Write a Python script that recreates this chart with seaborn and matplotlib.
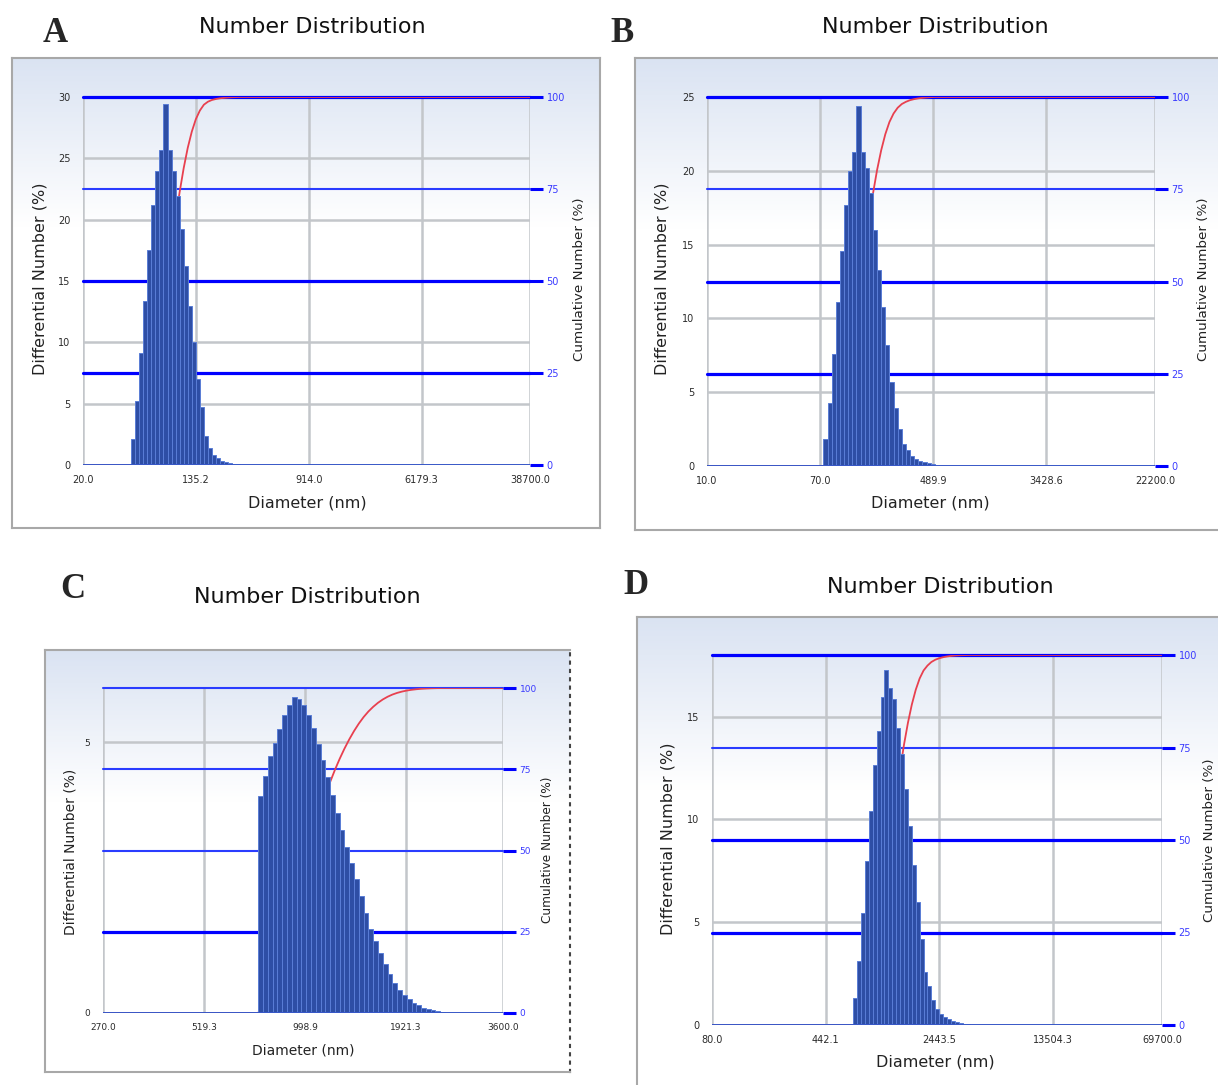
import numpy as np
import matplotlib
matplotlib.use("Agg")
import matplotlib.pyplot as plt
from matplotlib.ticker import NullLocator, FixedLocator
import seaborn as sns

sns.set_style("white")
plt.rcParams['font.family'] = ['DejaVu Sans']

# ---------------- data ----------------
cum_ticks = [0, 25, 50, 75, 100]

# Panel A
a_edges = [45.2, 48.4, 51.83, 55.5, 59.43, 63.64, 68.14, 72.97, 78.13, 83.66,
           89.59, 95.93, 102.72, 110.0, 117.78, 126.12, 135.05, 144.61, 154.85,
           165.81, 177.55, 190.12, 203.58, 217.99, 233.42, 249.95, 267.64, 286.59]
a_heights = [2.1, 5.2, 9.1, 13.4, 17.5, 21.2, 24.0, 25.7, 29.4, 25.7, 24.0, 21.9,
             19.2, 16.2, 13.0, 10.0, 7.0, 4.7, 2.4, 1.4, 0.8, 0.55, 0.35, 0.28,
             0.2, 0.12, 0.08]
a_xticks = [20.0, 135.2, 914.0, 6179.3, 38700.0]
a_xticklabels = ["20.0", "135.2", "914.0", "6179.3", "38700.0"]
a_yticks = [0, 5, 10, 15, 20, 25, 30]

# Panel B
b_edges = [74.1, 79.55, 85.4, 91.67, 98.41, 105.64, 113.4, 121.74, 130.69, 140.29,
           150.6, 161.67, 173.55, 186.31, 200.0, 214.7, 230.48, 247.42, 265.61,
           285.13, 306.09, 328.59, 352.74, 378.67, 406.5, 436.38, 468.46, 502.89]
b_heights = [1.8, 4.3, 7.6, 11.1, 14.6, 17.7, 20.0, 21.3, 24.4, 21.3, 20.2, 18.5,
             16.0, 13.3, 10.8, 8.2, 5.7, 3.9, 2.5, 1.5, 1.1, 0.7, 0.5, 0.35,
             0.25, 0.2, 0.12]
b_xticks = [10.0, 70.0, 489.9, 3428.6, 22200.0]
b_xticklabels = ["10.0", "70.0", "489.9", "3428.6", "22200.0"]
b_yticks = [0, 5, 10, 15, 20, 25]

# Panel C
c_edges = [738.0, 761.25, 785.23, 809.96, 835.47, 861.79, 888.93, 916.93, 945.82,
           975.61, 1006.34, 1038.04, 1070.74, 1104.47, 1139.26, 1175.15, 1212.17,
           1250.35, 1289.74, 1330.37, 1372.27, 1415.5, 1460.09, 1506.08, 1553.52,
           1602.46, 1652.94, 1705.01, 1758.72, 1814.12, 1871.26, 1930.2, 1991.0,
           2053.72, 2118.41, 2185.14, 2253.97, 2324.97, 2398.21, 2473.75]
c_heights = [4.0, 4.37, 4.75, 4.98, 5.25, 5.5, 5.69, 5.83, 5.8, 5.68, 5.5, 5.27,
             4.97, 4.68, 4.35, 4.03, 3.7, 3.37, 3.07, 2.77, 2.47, 2.16, 1.85,
             1.55, 1.33, 1.1, 0.9, 0.72, 0.56, 0.43, 0.34, 0.25, 0.19, 0.14,
             0.1, 0.07, 0.05, 0.03, 0.02]
c_xticks = [270.0, 519.3, 998.9, 1921.3, 3600.0]
c_xticklabels = ["270.0", "519.3", "998.9", "1921.3", "3600.0"]
c_yticks = [0, 5]

# Panel D
d_edges = [669.0, 709.54, 752.54, 798.14, 846.51, 897.81, 952.2, 1009.9, 1071.1,
           1136.01, 1204.85, 1277.86, 1355.3, 1437.43, 1524.54, 1616.93, 1714.92,
           1818.84, 1929.06, 2045.96, 2169.94, 2301.44, 2440.91, 2588.83, 2745.71,
           2912.1, 3088.57, 3275.74, 3474.25, 3684.79, 3908.09]
d_heights = [1.3, 3.1, 5.45, 7.97, 10.4, 12.65, 14.3, 15.95, 17.25, 16.4, 15.85,
             14.45, 13.2, 11.5, 9.7, 7.8, 6.0, 4.2, 2.6, 1.9, 1.2, 0.78, 0.55,
             0.4, 0.28, 0.2, 0.13, 0.08, 0.05, 0.03]
d_xticks = [80.0, 442.1, 2443.5, 13504.3, 69700.0]
d_xticklabels = ["80.0", "442.1", "2443.5", "13504.3", "69700.0"]
d_yticks = [0, 5, 10, 15]

title_text = "Number Distribution"
xlabel_text = "Diameter (nm)"
ylabel_text = "Differential Number (%)"
rlabel_text = "Cumulative Number (%)"

# ---------------- figure ----------------
W, H = 1218, 1085
fig = plt.figure(figsize=(W / 100, H / 100), dpi=100)


def rect(x0, y0, x1, y1):
    return [x0 / W, 1 - y1 / H, (x1 - x0) / W, (y1 - y0) / H]


def to_frac(xy):
    return xy[0] / W, 1 - xy[1] / H


BAR = "#2e4ea5"
BAR_EDGE = "#5a7dd6"
BLUE = "#0000ff"
RED = "#e8404f"
GRID = "#c3c6ca"


def panel(box, plot, edges, heights, xticks, xticklabels, yticks, ymax,
          line_w, letter, letter_xy, title_xy, xlab_xy, ylab_xy, rlab_xy,
          lab_fs, rlab_fs, tick_fs, dotted_right=False):
    # panel background with gradient
    bg = fig.add_axes(rect(*box), zorder=0)
    n = 300
    t = np.clip(np.linspace(0, 1, n) / 0.36, 0, 1)
    top = np.array([0.855, 0.89, 0.95])
    cols = top[None, :] + (1 - top[None, :]) * t[:, None]
    bg.imshow(cols[:, None, :], aspect="auto", extent=[0, 1, 0, 1], origin="upper")
    bg.set_xticks([]); bg.set_yticks([])
    for s in bg.spines.values():
        s.set_color("#a8a8a8"); s.set_linewidth(1.5)
    if dotted_right:
        bg.spines["right"].set_color("#444444")
        bg.spines["right"].set_linestyle((0, (1, 3)))

    ax = fig.add_axes(rect(*plot), zorder=1)
    ax.patch.set_alpha(0)

    e = np.asarray(edges, dtype=float)
    centers = np.sqrt(e[:-1] * e[1:])
    log_edges = [float(v) for v in np.log10(e)]
    sns.histplot(x=centers, weights=np.asarray(heights), bins=log_edges,
                 log_scale=True, stat="count", color=BAR, edgecolor=BAR_EDGE,
                 linewidth=0.7, alpha=1, ax=ax, zorder=3)

    # cumulative curve (behind the bars)
    h = np.asarray(heights)
    cum = np.cumsum(h) / h.sum() * 100
    xs = np.concatenate([[xticks[0], e[0]], e[1:], [xticks[-1]]])
    ys = np.concatenate([[0, 0], cum, [100]]) * ymax / 100
    sns.lineplot(x=xs, y=ys, sort=False, estimator=None, color=RED, lw=1.3,
                 ax=ax, zorder=2.5)

    # blue cumulative guide lines
    for frac, (lw, col) in zip([0.25, 0.5, 0.75, 1.0], line_w):
        ax.axhline(frac * ymax, color=col, lw=lw, zorder=2, clip_on=False)
    ax.axhline(0, color="#3858c8", lw=1.4, zorder=4)

    ax.set_xscale("log")
    ax.set_xlim(xticks[0], xticks[-1])
    ax.set_ylim(0, ymax)
    ax.xaxis.set_major_locator(FixedLocator(xticks))
    ax.xaxis.set_minor_locator(NullLocator())
    ax.set_xticklabels(xticklabels)
    ax.set_yticks(yticks)
    ax.set_xlabel(""); ax.set_ylabel("")
    ax.grid(True, color=GRID, lw=1.8)
    ax.set_axisbelow(True)
    for s in ax.spines.values():
        s.set_visible(False)
    ax.tick_params(axis="x", length=4, width=1.5, color=GRID, labelsize=tick_fs,
                   labelcolor="#2a2a2a", pad=3)
    ax.tick_params(axis="y", length=7, width=1.5, color=GRID, labelsize=tick_fs,
                   labelcolor="#2a2a2a", pad=2)

    sec = ax.secondary_yaxis("right", functions=(lambda y, m=ymax: y * 100 / m,
                                                  lambda p, m=ymax: p * m / 100))
    sec.set_yticks(cum_ticks)
    sec.tick_params(length=9, width=2.2, color=BLUE, labelcolor="#3a3aff",
                    labelsize=tick_fs, pad=3)
    for s in sec.spines.values():
        s.set_visible(False)

    fig.text(*to_frac(title_xy), title_text, fontsize=16, ha="center",
             va="center", color="#111111")
    fig.text(*to_frac(letter_xy), letter, fontsize=25, ha="center",
             va="center", fontweight="bold", family=["Liberation Serif"])
    fig.text(*to_frac(xlab_xy), xlabel_text, fontsize=lab_fs, ha="center",
             va="center", color="#222222")
    fig.text(*to_frac(ylab_xy), ylabel_text, fontsize=lab_fs, ha="center",
             va="center", rotation=90, color="#222222")
    fig.text(*to_frac(rlab_xy), rlabel_text, fontsize=rlab_fs, ha="center",
             va="center", rotation=90, color="#222222")


THICK = (2.3, BLUE)
THIN = (1.5, "#2a3cff")

panel((12, 58, 600, 528), (83, 97, 530, 465), a_edges, a_heights, a_xticks,
      a_xticklabels, a_yticks, 30, [THICK, THICK, THIN, THICK], "A", (55, 33),
      (312, 27), (307, 503), (40, 279), (580, 279), 11.5, 9.7, 7)

panel((635, 58, 1230, 530), (707, 97, 1155, 466), b_edges, b_heights, b_xticks,
      b_xticklabels, b_yticks, 25, [THICK, THICK, THIN, THICK], "B", (622, 33),
      (935, 27), (930, 503), (662, 279), (1203, 279), 11.5, 9.7, 7)

panel((45, 650, 570, 1072), (103, 688, 503, 1013), c_edges, c_heights, c_xticks,
      c_xticklabels, c_yticks, 6, [THICK, THIN, THIN, THIN], "C", (73, 590),
      (307, 597), (303, 1050), (70, 852), (548, 850), 10, 8.7, 6.5,
      dotted_right=True)

panel((637, 617, 1230, 1095), (712, 655, 1162, 1025), d_edges, d_heights, d_xticks,
      d_xticklabels, d_yticks, 18, [THICK, THICK, THIN, THICK], "D", (636, 586),
      (940, 587), (935, 1062), (668, 839), (1210, 840), 11.5, 9.7, 7)

fig.savefig("out.png", dpi=100, facecolor="white")
